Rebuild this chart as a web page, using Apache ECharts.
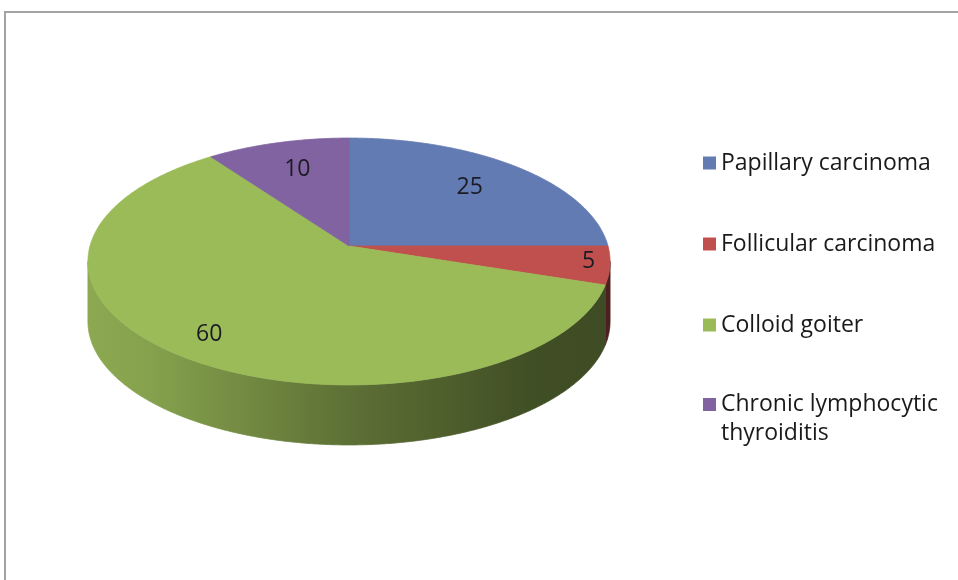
<!DOCTYPE html>
<html><head><meta charset="utf-8">
<script src="https://cdn.jsdelivr.net/npm/echarts@6/dist/echarts.min.js"></script>
<style>html,body{margin:0;padding:0;background:#fff}#c{width:958px;height:580px}</style>
</head><body><div id="c"></div>
<script>
const categories = ['Papillary carcinoma', 'Follicular carcinoma', 'Colloid goiter', 'Chronic lymphocytic thyroiditis'];
const values = [25, 5, 60, 10];
const colors = ['#637bb3', '#c0504d', '#9bbb59', '#8063a0'];

const total = values.reduce((a, b) => a + b, 0);
const starts = [];
let acc = 0;
values.forEach(v => { starts.push(acc); acc += v; });

// 3D pie projection layout
const CX = 349, CY = 246, RX = 259, AY = 121.5, P = 0.1255, DEPTH = 60;
const S1 = Math.acos(-P) * 180 / Math.PI, S2 = 360 - S1;
function proj(theta, k) {
  const t = theta * Math.PI / 180;
  const s = Math.sin(t) * k, d = -Math.cos(t) * k;
  const f = 1 / (1 - P * d);
  return [CX + RX * s * f, CY + AY * d * f];
}
function shade(hex, m) {
  const c = echarts.color.parse(hex);
  return 'rgb(' + [0, 1, 2].map(i => Math.round(c[i] * m)).join(',') + ')';
}
function arc(a0, a1, dy) {
  const pts = [];
  for (let t = a0; t < a1; t += 0.5) { const p = proj(t, 1); pts.push([p[0], p[1] + dy]); }
  const p = proj(a1, 1); pts.push([p[0], p[1] + dy]);
  return pts;
}

function makeRender(idx) {
  return function (params, api) {
    const v = api.value(0);
    const a0 = starts[idx] / total * 360;
    const a1 = a0 + v / total * 360;
    const col = colors[idx];
    const children = [];
    const lo = Math.max(a0, S1), hi = Math.min(a1, S2);
    if (hi > lo) {
      const top = arc(lo, hi, 0);
      const bot = arc(lo, hi, DEPTH).reverse();
      const grad = new echarts.graphic.LinearGradient(CX - RX, 0, CX + RX, 0, [
        { offset: 0, color: shade(col, 0.9) },
        { offset: 0.12, color: shade(col, 0.86) },
        { offset: 0.5, color: shade(col, 0.6) },
        { offset: 0.85, color: shade(col, 0.42) },
        { offset: 1, color: shade(col, 0.4) }
      ], true);
      children.push({
        type: 'polygon', z2: 1,
        shape: { points: top.concat(bot) },
        style: { fill: grad, stroke: grad, lineWidth: 0.8 }
      });
    }
    const face = [[CX, CY]].concat(arc(a0, a1, 0));
    children.push({
      type: 'polygon', z2: 10,
      shape: { points: face },
      style: { fill: col, stroke: col, lineWidth: 0.8 }
    });
    const frac = v / total;
    const k = frac < 0.08 ? 0.92 : (frac > 0.5 ? 0.84 : 0.7);
    const lp = proj((a0 + a1) / 2, k);
    children.push({
      type: 'text', z2: 20,
      x: lp[0], y: lp[1] - 2,
      style: {
        text: String(v), fill: '#1b1b25',
        font: '23px "Open Sans"', align: 'center', verticalAlign: 'middle'
      }
    });
    return { type: 'group', children: children };
  };
}

const chart = echarts.init(document.getElementById('c'), null, { renderer: 'canvas' });
const legendText = { fontFamily: 'Open Sans', fontSize: 23, color: '#1a1a1a' };
chart.setOption({
  animation: false,
  color: colors,
  graphic: [{
    type: 'rect', silent: true, z: -1,
    shape: { x: 5, y: 12, width: 1000, height: 1000 },
    style: { fill: '#fff', stroke: '#a3a3a3', lineWidth: 2 }
  }],
  legend: [{
    data: categories.slice(0, 3), orient: 'vertical', left: 703, top: 150,
    icon: 'rect', itemWidth: 13, itemHeight: 13, itemGap: 55, padding: 0,
    selectedMode: false,
    textStyle: Object.assign({ lineHeight: 26 }, legendText)
  }, {
    data: categories.slice(3), orient: 'vertical', left: 703, top: 361,
    icon: 'rect', itemWidth: 13, itemHeight: 13, padding: 0,
    selectedMode: false,
    formatter: n => { const w = n.split(' '); return ' \n' + w.slice(0, 2).join(' ') + '\n' + w.slice(2).join(' '); },
    textStyle: Object.assign({ lineHeight: 29 }, legendText)
  }],
  series: categories.map((name, i) => ({
    type: 'custom', name: name, coordinateSystem: 'none',
    itemStyle: { color: colors[i] },
    data: [[values[i]]],
    renderItem: makeRender(i)
  }))
});
</script></body></html>
